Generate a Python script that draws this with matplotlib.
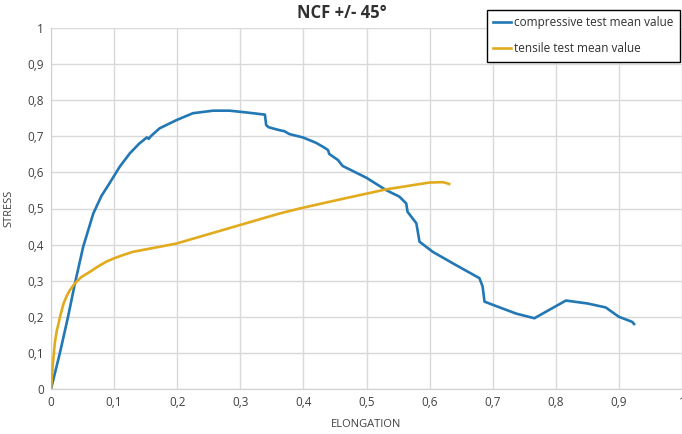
import matplotlib
matplotlib.use("Agg")
import matplotlib.pyplot as plt
from matplotlib.ticker import FixedLocator, FuncFormatter

# Compressive test mean value (elongation, stress)
comp_x = [0.0, 0.014, 0.027, 0.038, 0.051, 0.067, 0.080, 0.091, 0.109, 0.125,
          0.140, 0.152, 0.155, 0.158, 0.172, 0.199, 0.225, 0.257, 0.283, 0.310,
          0.339, 0.341, 0.345, 0.362, 0.370, 0.378, 0.399, 0.420, 0.431, 0.439,
          0.441, 0.455, 0.462, 0.500, 0.531, 0.552, 0.563, 0.565, 0.579, 0.584,
          0.605, 0.640, 0.679, 0.684, 0.687, 0.705, 0.737, 0.766, 0.816, 0.850,
          0.879, 0.900, 0.921, 0.924]
comp_y = [0.0, 0.099, 0.200, 0.293, 0.394, 0.486, 0.535, 0.565, 0.616, 0.653,
          0.680, 0.697, 0.693, 0.700, 0.722, 0.745, 0.764, 0.771, 0.771, 0.766,
          0.760, 0.731, 0.725, 0.717, 0.714, 0.706, 0.697, 0.682, 0.671, 0.662,
          0.651, 0.634, 0.618, 0.585, 0.551, 0.533, 0.514, 0.491, 0.459, 0.408,
          0.380, 0.345, 0.307, 0.284, 0.242, 0.230, 0.209, 0.196, 0.245, 0.237,
          0.226, 0.200, 0.186, 0.180]

# Tensile test mean value (elongation, stress)
tens_x = [0.0, 0.003, 0.006, 0.009, 0.012, 0.015, 0.020, 0.025, 0.030, 0.038,
          0.048, 0.062, 0.075, 0.088, 0.100, 0.114, 0.130, 0.151, 0.175, 0.199,
          0.246, 0.299, 0.362, 0.394, 0.450, 0.531, 0.600, 0.621, 0.631]
tens_y = [0.0, 0.070, 0.127, 0.160, 0.182, 0.205, 0.237, 0.258, 0.274, 0.293,
          0.310, 0.325, 0.340, 0.353, 0.362, 0.371, 0.380, 0.387, 0.395, 0.403,
          0.427, 0.454, 0.486, 0.500, 0.522, 0.553, 0.572, 0.573, 0.568]

x_ticks = [0.0, 0.1, 0.2, 0.3, 0.4, 0.5, 0.6, 0.7, 0.8, 0.9, 1.0]
y_ticks = [0.0, 0.1, 0.2, 0.3, 0.4, 0.5, 0.6, 0.7, 0.8, 0.9, 1.0]

title = "NCF +/- 45°"
x_label = "ELONGATION"
y_label = "STRESS"
comp_label = "compressive test mean value"
tens_label = "tensile test mean value"

plt.rcParams['font.family'] = ['Open Sans', 'DejaVu Sans']

fig = plt.figure(figsize=(6.82, 4.34), dpi=100)
ax = fig.add_axes([51 / 682, 1 - 389 / 434, 631 / 682, 361 / 434])

ax.plot(comp_x, comp_y, color="#2277b5", lw=1.9, label=comp_label, zorder=3)
ax.plot(tens_x, tens_y, color="#e2ab1e", lw=1.9, label=tens_label, zorder=3)

ax.set_xlim(0, 1)
ax.set_ylim(0, 1)


def comma_fmt(v, pos):
    s = f"{v:.1f}"
    if s.endswith(".0"):
        s = s[:-2]
    return s.replace(".", ",")


ax.xaxis.set_major_locator(FixedLocator(x_ticks))
ax.yaxis.set_major_locator(FixedLocator(y_ticks))
ax.xaxis.set_major_formatter(FuncFormatter(comma_fmt))
ax.yaxis.set_major_formatter(FuncFormatter(comma_fmt))

ax.grid(True, color="#d9d9d9", lw=1.0)
ax.set_axisbelow(True)
for side in ("top", "right"):
    ax.spines[side].set_visible(False)
for side in ("left", "bottom"):
    ax.spines[side].set_color("#d0d0d0")
ax.tick_params(length=0, labelsize=8.5, colors="#404040", pad=5)

ax.set_xlabel(x_label, fontsize=8, color="#404040", labelpad=7)
ax.set_ylabel(y_label, fontsize=8, color="#404040", labelpad=9)
fig.text(342 / 682, 1 - 13 / 434, title, ha="center", va="center",
         fontsize=12, fontweight="bold", color="#303030")

leg = ax.legend(loc="upper right", bbox_to_anchor=(680 / 682, 1 - 10 / 434),
                bbox_transform=fig.transFigure, borderaxespad=0,
                fontsize=8.5, frameon=True, fancybox=False, edgecolor="black",
                handlelength=1.5, handletextpad=0.25, labelspacing=1.1,
                borderpad=0.55, framealpha=1)
leg.get_frame().set_linewidth(1.0)
for t in leg.get_texts():
    t.set_color("#303030")

fig.savefig("out.png", dpi=100)
